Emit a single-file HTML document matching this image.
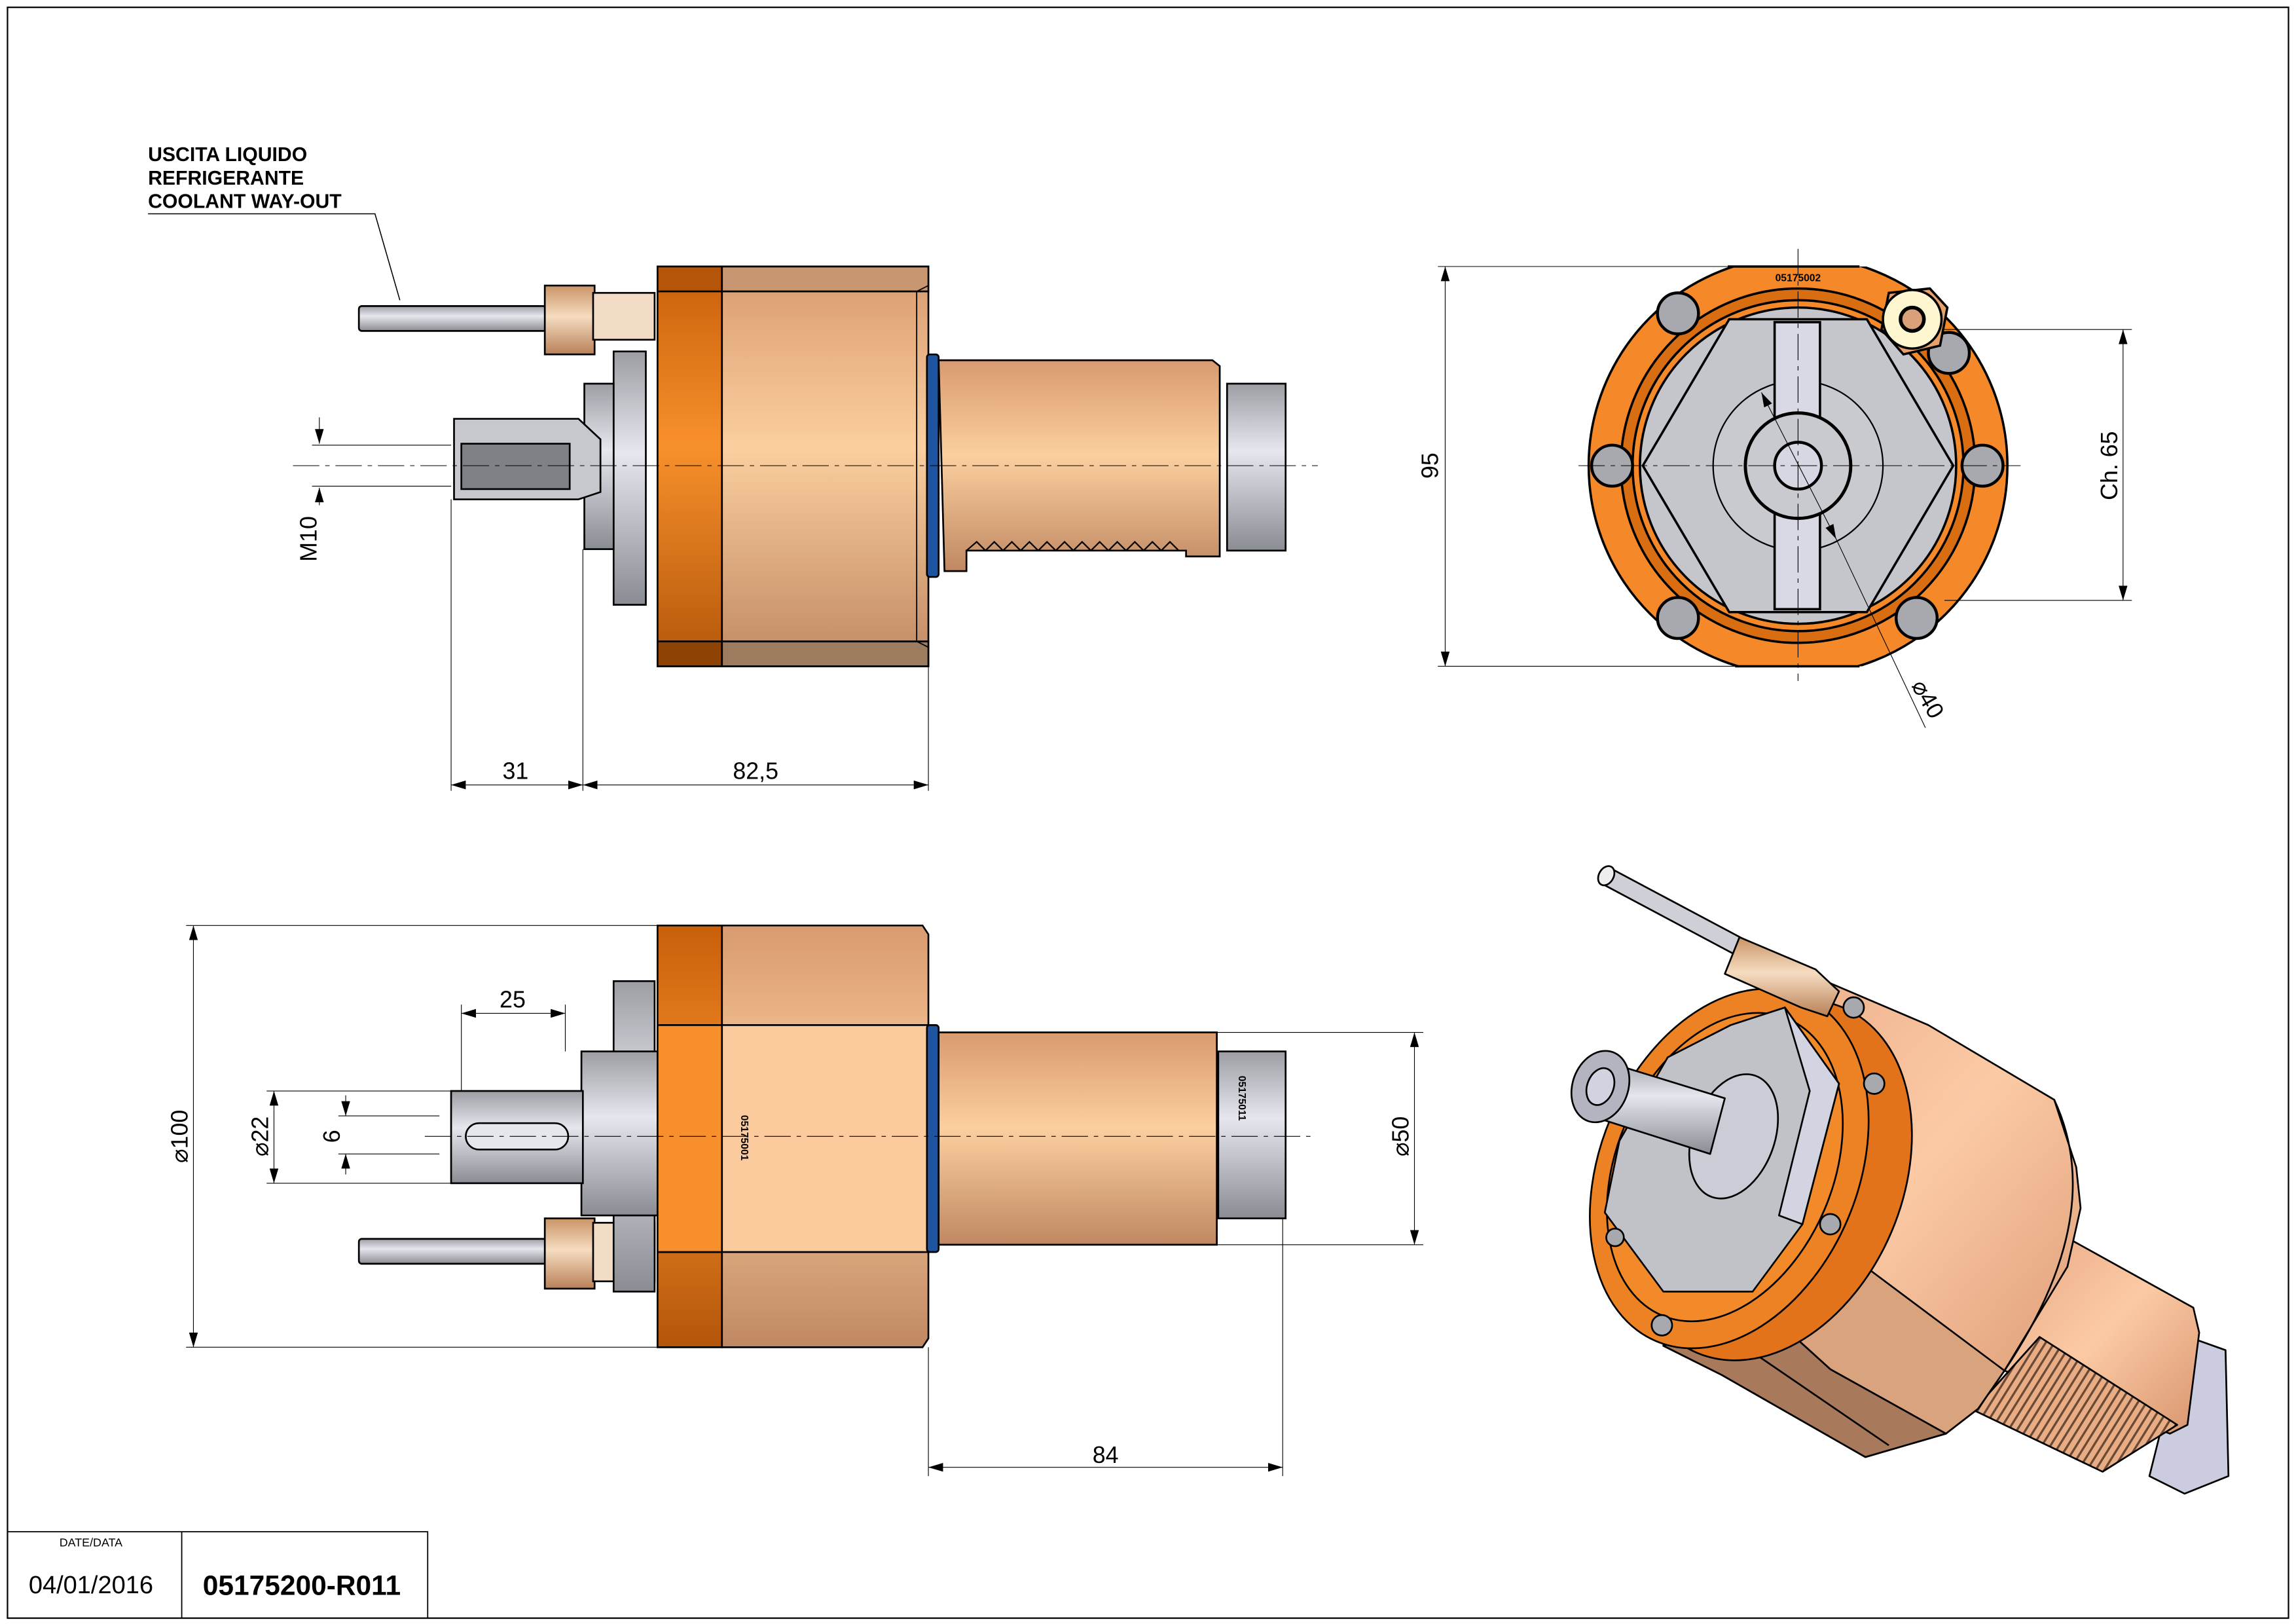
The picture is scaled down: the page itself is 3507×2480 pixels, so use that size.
<!DOCTYPE html>
<html><head><meta charset="utf-8"><style>
html,body{margin:0;padding:0;background:#fff}
svg{display:block}
text{font-family:"Liberation Sans",sans-serif}
</style></head><body>
<svg width="3507" height="2480" viewBox="0 0 1568 1109" xmlns="http://www.w3.org/2000/svg">
<defs>
<linearGradient id="tan" x1="0" y1="0" x2="0" y2="1">
<stop offset="0" stop-color="#d99a70"/><stop offset="0.45" stop-color="#fbcf9f"/><stop offset="1" stop-color="#c08862"/></linearGradient>
<linearGradient id="org" x1="0" y1="0" x2="0" y2="1">
<stop offset="0" stop-color="#c85f0a"/><stop offset="0.45" stop-color="#f7902c"/><stop offset="1" stop-color="#b3560a"/></linearGradient>
<linearGradient id="gry" x1="0" y1="0" x2="0" y2="1">
<stop offset="0" stop-color="#9c9ea4"/><stop offset="0.4" stop-color="#e6e7ee"/><stop offset="1" stop-color="#8a8c93"/></linearGradient>
<linearGradient id="brs" x1="0" y1="0" x2="0" y2="1">
<stop offset="0" stop-color="#c99467"/><stop offset="0.45" stop-color="#f6dcc0"/><stop offset="1" stop-color="#b88158"/></linearGradient>
<linearGradient id="iso" x1="0" y1="0" x2="1" y2="1">
<stop offset="0" stop-color="#e7a781"/><stop offset="0.5" stop-color="#fbcaa5"/><stop offset="1" stop-color="#d8956e"/></linearGradient>
<pattern id="thr" width="5" height="5" patternUnits="userSpaceOnUse" patternTransform="rotate(32)"><rect width="5" height="5" fill="#e9ad86"/><rect width="1.5" height="5" fill="#6b4a35"/></pattern>
<marker id="a" viewBox="0 0 10 6" refX="10" refY="3" markerWidth="10" markerHeight="6" orient="auto-start-reverse" markerUnits="userSpaceOnUse"><path d="M0,0L10,3L0,6z" fill="#000"/></marker>
</defs>
<rect x="5" y="5" width="1558" height="1100" fill="none" stroke="#000" stroke-width="1"/>
<path d="M5,1046H292V1105M124,1046V1105" fill="none" stroke="#000" stroke-width="0.8"/>
<text x="62" y="1056" font-size="8" text-anchor="middle">DATE/DATA</text>
<text x="62" y="1088" font-size="17" text-anchor="middle">04/01/2016</text>
<text x="206" y="1089" font-size="19" font-weight="bold" text-anchor="middle">05175200-R011</text>
<g font-size="13.5" font-weight="bold"><text x="101" y="110">USCITA LIQUIDO</text><text x="101" y="126">REFRIGERANTE</text><text x="101" y="142">COOLANT WAY-OUT</text></g>
<path d="M101,146H256L273,205" fill="none" stroke="#000" stroke-width="0.7"/>

<!-- TOP SIDE VIEW -->
<g stroke="#000" stroke-width="1.2">
<rect x="245" y="209" width="128" height="17" rx="2" fill="url(#gry)"/>
<rect x="372" y="195" width="34" height="47" fill="url(#brs)"/>
<rect x="405" y="200" width="42" height="32" fill="#f3dcc6"/>
<rect x="419" y="240" width="22" height="173" fill="url(#gry)"/>
<rect x="399" y="262" width="20" height="113" fill="url(#gry)"/>
<path d="M310,286H395L410,300V336L395,341H310Z" fill="#c6c8ce"/>
<rect x="315" y="303" width="74" height="31" fill="#7f8186"/>
<rect x="449" y="182" width="44" height="273" fill="url(#org)"/>
<rect x="449" y="182" width="44" height="17" fill="#b45509"/>
<rect x="449" y="438" width="44" height="17" fill="#8c4304"/>
<path d="M493,182H634V455H493Z" fill="url(#tan)"/>
<path d="M493,182H634V199H493Z" fill="#c89771"/>
<path d="M493,438H634V455H493Z" fill="#9c7b5f"/>
<path d="M626,199L634,195M626,438L634,442M626,199V438" fill="none" stroke-width="0.8"/>
<rect x="633" y="242" width="8" height="152" rx="2" fill="#1f55a0"/>
<path d="M641,246H828L833,250V380H810V376H660V390H645Z" fill="url(#tan)"/>
<path d="M660,376L667,370L673,376L679,370L685,376L691,370L697,376L703,370L709,376L715,370L721,376L727,370L733,376L739,370L745,376L751,370L757,376L763,370L769,376L775,370L781,376L787,370L793,376L799,370L805,376" fill="none" stroke-width="1"/>
<rect x="838" y="262" width="40" height="114" fill="url(#gry)"/>
</g>
<g stroke="#000" stroke-width="0.5" fill="none">
<path d="M200,318H900" stroke-dasharray="18,4,3,4"/>
<path d="M213,304H308M213,332H308"/>
<path d="M218,285V303" marker-end="url(#a)"/><path d="M218,345V333" marker-end="url(#a)"/>
<path d="M308,341V540M398,375V540M634,455V540"/>
<path d="M308,536H398" marker-start="url(#a)" marker-end="url(#a)"/>
<path d="M398,536H634" marker-start="url(#a)" marker-end="url(#a)"/>
</g>
<text x="352" y="532" font-size="16" text-anchor="middle">31</text>
<text x="516" y="532" font-size="16" text-anchor="middle">82,5</text>
<text x="216" y="368" font-size="16" text-anchor="middle" transform="rotate(-90 216 368)">M10</text>

<!-- END VIEW -->
<clipPath id="endclip"><rect x="1070" y="182" width="320" height="273"/></clipPath>
<g stroke="#000" stroke-width="1.6">
<circle cx="1228" cy="318" r="143" fill="#f5892a" clip-path="url(#endclip)"/>
<path d="M1180,182H1270M1185,455H1270" fill="none"/>
<circle cx="1228" cy="318" r="121" fill="#d96d12"/>
<circle cx="1228" cy="318" r="113" fill="#f5892a"/>
<circle cx="1228" cy="318" r="108" fill="#c5c6cb"/>
<path d="M1181,218H1275L1334,318L1275,418H1181L1122,318Z" fill="#c5c6cb"/>
<circle cx="1228" cy="318" r="58" fill="#c9cad0" stroke-width="1"/>
<rect x="1212" y="220" width="31" height="196" fill="#d8d9e4"/>
<circle cx="1228" cy="318" r="36" fill="#c9cad0" stroke-width="2.2"/>
<circle cx="1228" cy="318" r="16" fill="#d6d7e2" stroke-width="2"/>
<g fill="#a7a9ae" stroke-width="2"><circle cx="1146" cy="214" r="14"/><circle cx="1331" cy="241" r="14"/><circle cx="1101" cy="318" r="14"/><circle cx="1354" cy="318" r="14"/><circle cx="1146" cy="422" r="14"/><circle cx="1309" cy="422" r="14"/></g>
<path d="M1290,200L1318,197L1330,210L1325,236L1300,242L1285,225Z" fill="#e7a06a"/>
<circle cx="1306" cy="218" r="20" fill="#fdf6d0"/><circle cx="1306" cy="218" r="8" fill="#d9a07a" stroke-width="2.5"/>
</g>
<text x="1228" y="192" font-size="7" font-weight="bold" text-anchor="middle">05175002</text>
<g stroke="#000" stroke-width="0.5" fill="none">
<path d="M1078,318H1380M1228,170V465" stroke-dasharray="18,4,3,4"/>
<path d="M982,182H1190M982,455H1200M1328,225H1456M1328,410H1456"/>
<path d="M987,182V455" marker-start="url(#a)" marker-end="url(#a)"/>
<path d="M1450,225V410" marker-start="url(#a)" marker-end="url(#a)"/>
<path d="M1203,268L1254,368" marker-start="url(#a)" marker-end="url(#a)"/>
<path d="M1254,368L1315,497"/>
</g>
<text x="982" y="318" font-size="16" text-anchor="middle" transform="rotate(-90 982 318)">95</text>
<text x="1446" y="318" font-size="16" text-anchor="middle" transform="rotate(-90 1446 318)">Ch. 65</text>
<text x="1312" y="480" font-size="16" text-anchor="middle" transform="rotate(60 1312 480)">⌀40</text>

<!-- BOTTOM VIEW -->
<g stroke="#000" stroke-width="1.2">
<rect x="245" y="846" width="128" height="17" rx="2" fill="url(#gry)"/>
<rect x="372" y="832" width="34" height="48" fill="url(#brs)"/>
<rect x="405" y="835" width="42" height="40" fill="#f3dcc6"/>
<rect x="419" y="670" width="28" height="212" fill="url(#gry)"/>
<rect x="397" y="718" width="53" height="112" fill="url(#gry)"/>
<rect x="308" y="745" width="90" height="63" fill="url(#gry)"/>
<rect x="318" y="767" width="70" height="18" rx="9" fill="#e6e7ec"/>
<path d="M449,632H493V920H449Z" fill="url(#org)"/>
<path d="M493,632H630L634,638V914L630,920H493Z" fill="url(#tan)"/>
<path d="M449,700H634V855H449Z" fill="#fbcb9d"/>
<path d="M449,700H493V855H449Z" fill="#f78f2c"/>
<rect x="633" y="700" width="8" height="155" rx="2" fill="#1f55a0"/>
<rect x="641" y="705" width="190" height="145" fill="url(#tan)"/>
<rect x="832" y="718" width="46" height="114" fill="url(#gry)"/>
</g>
<text x="506" y="777" font-size="7" font-weight="bold" text-anchor="middle" transform="rotate(90 506 777)">05175001</text>
<text x="846" y="750" font-size="7" font-weight="bold" text-anchor="middle" transform="rotate(90 846 750)">05175011</text>
<g stroke="#000" stroke-width="0.5" fill="none">
<path d="M290,776H895" stroke-dasharray="18,4,3,4"/>
<path d="M127,632H449M127,920H449M182,745H308M182,808H308M231,762H300M231,788H300M315,686V745M386,686V718M830,705H972M830,850H972M634,920V1008M876,832V1008"/>
<path d="M132,632V920" marker-start="url(#a)" marker-end="url(#a)"/>
<path d="M187,745V808" marker-start="url(#a)" marker-end="url(#a)"/>
<path d="M236,748V762" marker-end="url(#a)"/><path d="M236,802V788" marker-end="url(#a)"/>
<path d="M315,692H386" marker-start="url(#a)" marker-end="url(#a)"/>
<path d="M966,705V850" marker-start="url(#a)" marker-end="url(#a)"/>
<path d="M634,1002H876" marker-start="url(#a)" marker-end="url(#a)"/>
</g>
<text x="350" y="688" font-size="16" text-anchor="middle">25</text>
<text x="755" y="999" font-size="16" text-anchor="middle">84</text>
<text x="128" y="776" font-size="16" text-anchor="middle" transform="rotate(-90 128 776)">⌀100</text>
<text x="183" y="776" font-size="16" text-anchor="middle" transform="rotate(-90 183 776)">⌀22</text>
<text x="232" y="776" font-size="16" text-anchor="middle" transform="rotate(-90 232 776)">6</text>
<text x="962" y="776" font-size="16" text-anchor="middle" transform="rotate(-90 962 776)">⌀50</text>

<!-- ISOMETRIC -->
<g stroke="#000" stroke-width="1.2" stroke-linejoin="round">
<path d="M1492,912L1520,922L1522,1008L1492,1020L1468,1008Z" fill="#cbcce0"/>
<path d="M1406,842L1498,893L1502,910L1494,973L1482,979L1369,936Z" fill="url(#iso)"/>
<path d="M1348,963L1393,913L1487,973L1436,1005Z" fill="url(#thr)"/>
<path d="M1249,671L1317,700L1403,751L1418,797L1421,825L1412,865L1369,936L1351,962L1329,979L1274,995L1176,939L1136,919L1150,860L1200,710Z" fill="url(#iso)"/>
<path d="M1403,751Q1440,830 1369,936" fill="none"/>
<path d="M1207,896L1274,865L1369,936L1351,962L1329,979L1250,935Z" fill="#d9a47d"/>
<path d="M1136,919L1207,896L1250,935L1329,979L1274,995L1176,939Z" fill="#a8795a"/>
<path d="M1170,905L1290,987" fill="none"/>
<ellipse cx="1209" cy="806" rx="90" ry="128" transform="rotate(23 1209 806)" fill="#e2731a"/>
<ellipse cx="1181" cy="798" rx="88" ry="128" transform="rotate(23 1181 798)" fill="#ed8224"/>
<ellipse cx="1178" cy="797" rx="74" ry="110" transform="rotate(23 1178 797)" fill="#f28a2a"/>
<path d="M1182,700L1219,688L1256,740L1231,836L1197,882L1136,882L1096,828L1106,779L1139,722Z" fill="#c1c2c8"/>
<path d="M1219,688L1256,740L1231,836L1215,830L1236,745Z" fill="#d3d4e2"/>
<ellipse cx="1184" cy="776" rx="28" ry="44" transform="rotate(20 1184 776)" fill="#cbccd6"/>
<path d="M1087,722L1178,750L1168,788L1080,760Z" fill="url(#gry)"/>
<ellipse cx="1093" cy="742" rx="19" ry="25" transform="rotate(20 1093 742)" fill="#b3b4bf"/>
<ellipse cx="1093" cy="742" rx="9" ry="13" transform="rotate(20 1093 742)" fill="#d2d3e0"/>
<g fill="#a7a9ae"><circle cx="1266" cy="688" r="7"/><circle cx="1280" cy="740" r="7"/><circle cx="1250" cy="836" r="7"/><circle cx="1103" cy="845" r="6"/><circle cx="1135" cy="905" r="7"/></g>
<path d="M1100,593L1194,643L1189,654L1095,604Z" fill="#cfd0d7"/>
<ellipse cx="1097" cy="598" rx="5" ry="7" transform="rotate(30 1097 598)" fill="#eee"/>
<path d="M1188,640L1240,662L1256,677L1248,694L1230,688L1178,665Z" fill="url(#brs)"/>
</g>
</svg>
</body></html>
